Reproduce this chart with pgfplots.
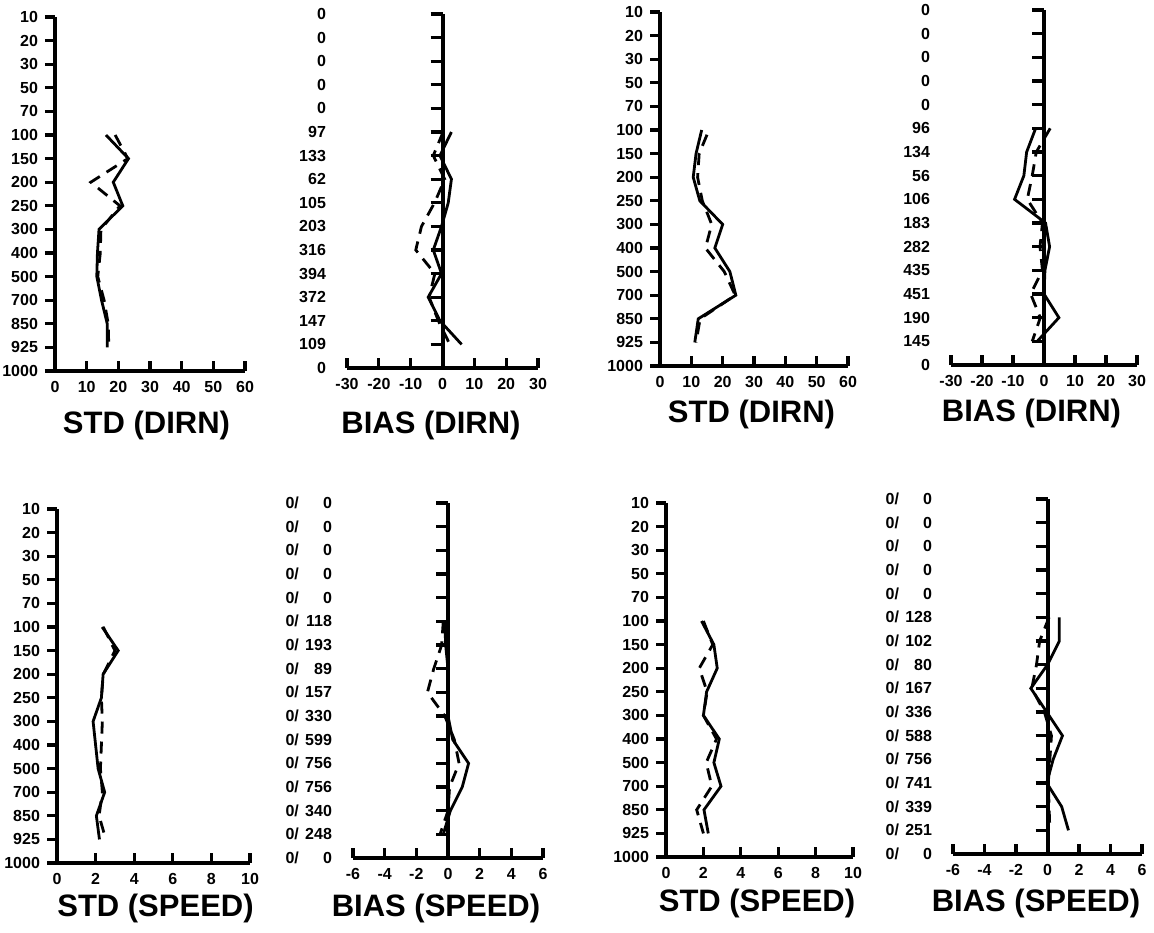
\documentclass[border=0pt]{standalone}
\usepackage{pgfplots}
\pgfplotsset{compat=1.18}
\usepackage{fontspec}
\setmainfont{Liberation Sans}
\newcommand\tickfont{\fontsize{8}{9}\selectfont\bfseries}
\newcommand\titfont{\fontsize{15.5}{17}\selectfont\bfseries}
\newcommand\spd[1]{0/\kern2.5pt\makebox[1.75em][r]{#1}}
\pgfplotsset{
  common/.style={scale only axis, anchor=north west, ymin=0, ymax=15, ytick={0,...,15},
    axis line style={line width=2pt}, major tick length=5pt,
    tick style={line width=1.6pt,black}, ticklabel style={font=\tickfont},
    xticklabel style={yshift=-1.5pt}, clip=false},
  std/.style={common, axis x line*=bottom, axis y line*=left, xtick align=inside, ytick align=outside,
    yticklabels={1000,925,850,700,500,400,300,250,200,150,100,70,50,30,20,10}},
  bias/.style={common, axis x line*=bottom, axis y line*=left, y axis line style={draw=none},
    y tick style={draw=none}, xtick align=inside, yticklabel style={xshift=-7pt}},
  ctr/.style={scale only axis, anchor=north west, ymin=0, ymax=15, axis x line=none,
    axis y line*=middle, ytick={1,...,15}, yticklabels={}, ytick align=outside,
    axis line style={line width=2pt}, major tick length=6pt, tick style={line width=1.6pt,black}},
  sol/.style={line width=1.4pt, black, no marks},
  das/.style={line width=1.4pt, black, no marks, dash pattern=on 6pt off 4pt},
}
\begin{document}
\begin{tikzpicture}
\path[use as bounding box] (0,0) rectangle (577pt,-466pt);
% ---------- A: STD (DIRN) left
\begin{axis}[std, at={(27.5pt,-8.5pt)}, width=95pt, height=177pt, xmin=0, xmax=60,
  xtick={0,10,...,60}, xticklabels={0,10,20,30,40,50,60}]
\addplot[sol] coordinates {(16.1,10)(23.2,9)(18.4,8)(21.4,7)(13.9,6)(13.4,5)(13.2,4)(14.7,3)(16.5,2)(16.5,1)};
\addplot[das] coordinates {(19,10)(23,9)(11.3,8)(20.5,7)(14.5,6)(14.3,5)(13.5,4)(15.5,3)(16.8,2)(17,1)};
\end{axis}
% ---------- B: BIAS (DIRN) left
\begin{axis}[bias, at={(173.5pt,-7pt)}, width=95.5pt, height=177pt, xmin=-30, xmax=30,
  xtick={-30,-20,...,30}, xticklabels={-30,-20,-10,0,10,20,30},
  yticklabels={0,109,147,372,394,316,203,105,62,133,97,0,0,0,0,0}]
\addplot[sol] coordinates {(2.8,10)(-0.8,9)(2.8,8)(1.8,7)(-0.3,6)(-2.9,5)(-0.3,4)(-4.5,3)(-0.8,2)(6,1)};
\addplot[das] coordinates {(0.2,10)(-2.9,9)(0.7,8)(-2.5,7)(-6.6,6)(-8.4,5)(-2.4,4)(-4.2,3)(-1.3,2)(2.3,1)};
\end{axis}
\begin{axis}[ctr, at={(173.5pt,-7pt)}, width=95.5pt, height=177pt, xmin=-30, xmax=30]
\end{axis}
% ---------- C: STD (DIRN) right
\begin{axis}[std, at={(330pt,-6pt)}, width=94pt, height=177pt, xmin=0, xmax=60,
  xtick={0,10,...,60}, xticklabels={0,10,20,30,40,50,60}]
\addplot[sol] coordinates {(13.3,10)(11.5,9)(10.6,8)(12.7,7)(20,6)(17.5,5)(22.3,4)(24.2,3)(12.2,2)(11.1,1)};
\addplot[das] coordinates {(15,9.8)(12.5,9)(12,8)(13.5,7)(16.5,6)(14.5,5)(20.5,4)(24,3)(12.8,2)(11.5,1)};
\end{axis}
% ---------- D: BIAS (DIRN) right
\begin{axis}[bias, at={(475.5pt,-5pt)}, width=93pt, height=177.5pt, xmin=-30, xmax=30,
  xtick={-30,-20,...,30}, xticklabels={-30,-20,-10,0,10,20,30},
  yticklabels={0,145,190,451,435,282,183,106,56,134,96,0,0,0,0,0}]
\addplot[sol] coordinates {(-2.7,10)(-5.6,9)(-6.5,8)(-9.5,7)(0.5,6)(1.8,5)(0.3,4)(0,3)(4.8,2)(-2.2,1)};
\addplot[das] coordinates {(2,10)(-2.5,9)(-3.8,8)(-5.4,7)(-0.5,6)(-1.3,5)(-0.5,4)(-4.3,3)(-1.2,2)(-3.8,1)};
\end{axis}
\begin{axis}[ctr, at={(475.5pt,-5pt)}, width=93pt, height=177.5pt, xmin=-30, xmax=30]
\end{axis}
% ---------- E: STD (SPEED) left
\begin{axis}[std, at={(28.5pt,-254.5pt)}, width=96.5pt, height=177pt, xmin=0, xmax=10,
  xtick={0,2,...,10}, xticklabels={0,2,4,6,8,10}]
\addplot[sol] coordinates {(2.34,10)(3.17,9)(2.39,8)(2.3,7)(1.87,6)(2.0,5)(2.13,4)(2.47,3)(2.04,2)(2.2,1)};
\addplot[das] coordinates {(2.4,10)(3.0,9)(2.4,8)(2.3,7)(2.35,6)(2.3,5)(2.25,4)(2.35,3)(2.18,2)(2.53,1)};
\end{axis}
% ---------- F: BIAS (SPEED) left
\begin{axis}[bias, at={(176.5pt,-251.5pt)}, width=95pt, height=177.5pt, xmin=-6, xmax=6,
  xtick={-6,-4,...,6}, xticklabels={-6,-4,-2,0,2,4,6},
  yticklabels={\spd{0},\spd{248},\spd{340},\spd{756},\spd{756},\spd{599},\spd{330},\spd{157},\spd{89},\spd{193},\spd{118},\spd{0},\spd{0},\spd{0},\spd{0},\spd{0}}]
\addplot[sol] coordinates {(-0.2,10)(-0.15,9)(0,8)(0,7)(0,6)(0.3,5)(1.3,4)(0.9,3)(0.15,2)(-0.3,1)};
\addplot[das] coordinates {(-0.3,10)(-0.4,9)(-0.9,8)(-1.3,7)(-0.2,6)(0.4,5)(0.7,4)(0.1,3)(0,2)(-0.5,1)};
\end{axis}
\begin{axis}[ctr, at={(176.5pt,-251.5pt)}, width=95pt, height=177.5pt, xmin=-6, xmax=6]
\end{axis}
% ---------- G: STD (SPEED) right
\begin{axis}[std, at={(333pt,-251.5pt)}, width=93.5pt, height=177pt, xmin=0, xmax=10,
  xtick={0,2,...,10}, xticklabels={0,2,4,6,8,10}]
\addplot[sol] coordinates {(1.9,10)(2.56,9)(2.74,8)(2.17,7)(2.0,6)(2.85,5)(2.56,4)(2.94,3)(2.03,2)(2.26,1)};
\addplot[das] coordinates {(2.0,10)(2.5,9)(1.78,8)(2.2,7)(2.0,6)(2.7,5)(2.15,4)(2.45,3)(1.64,2)(2.0,1)};
\end{axis}
% ---------- H: BIAS (SPEED) right
\begin{axis}[bias, at={(476.5pt,-249.5pt)}, width=94.5pt, height=177.5pt, xmin=-6, xmax=6,
  xtick={-6,-4,...,6}, xticklabels={-6,-4,-2,0,2,4,6},
  yticklabels={\spd{0},\spd{251},\spd{339},\spd{741},\spd{756},\spd{588},\spd{336},\spd{167},\spd{80},\spd{102},\spd{128},\spd{0},\spd{0},\spd{0},\spd{0},\spd{0}}]
\addplot[sol] coordinates {(0.75,10)(0.75,9)(0,8)(-1.06,7)(-0.05,6)(0.95,5)(0.36,4)(-0.05,3)(0.9,2)(1.33,1)};
\addplot[das] coordinates {(0.1,10)(-0.5,9)(-0.7,8)(-1.0,7)(-0.2,6)(0.25,5)(0.15,4)(0.05,3)(0.1,2)(0.15,1)};
\end{axis}
\begin{axis}[ctr, at={(476.5pt,-249.5pt)}, width=94.5pt, height=177.5pt, xmin=-6, xmax=6]
\end{axis}
% ---------- titles
\node[anchor=base, font=\titfont] at (73.25pt,-216.5pt) {STD (DIRN)};
\node[anchor=base, font=\titfont] at (215.5pt,-216.5pt) {BIAS (DIRN)};
\node[anchor=base, font=\titfont] at (375.75pt,-211.4pt) {STD (DIRN)};
\node[anchor=base, font=\titfont] at (515.75pt,-210.9pt) {BIAS (DIRN)};
\node[anchor=base, font=\titfont] at (77.75pt,-458.3pt) {STD (SPEED)};
\node[anchor=base, font=\titfont] at (218pt,-458pt) {BIAS (SPEED)};
\node[anchor=base, font=\titfont] at (378.5pt,-455.9pt) {STD (SPEED)};
\node[anchor=base, font=\titfont] at (518pt,-455.9pt) {BIAS (SPEED)};
\end{tikzpicture}
\end{document}
